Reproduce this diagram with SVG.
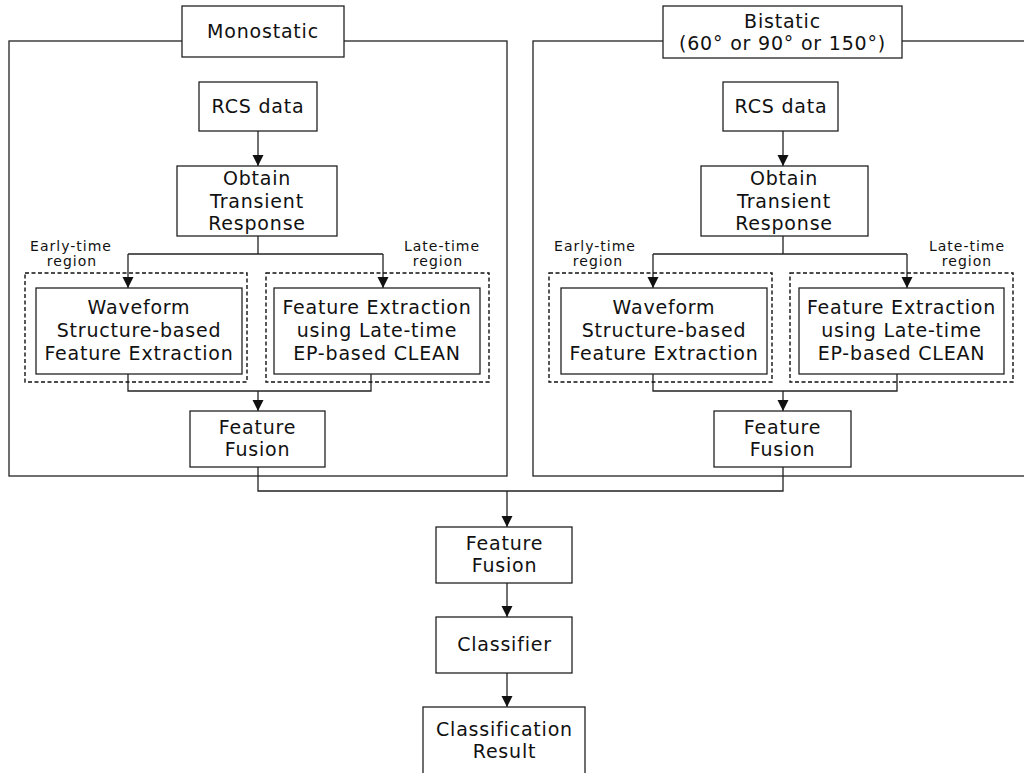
<svg xmlns="http://www.w3.org/2000/svg" width="1024" height="773" viewBox="0 0 1024 773">
<style>
  .box { fill: #fff; stroke: #222; stroke-width: 1.3; }
  .panel { fill: none; stroke: #222; stroke-width: 1.3; }
  .dash { fill: none; stroke: #111; stroke-width: 1.4; stroke-dasharray: 4 2.5; }
  .ln { fill: none; stroke: #222; stroke-width: 1.3; }
  .arr { fill: none; stroke: #222; stroke-width: 1.3; marker-end: url(#ah); }
  text { font-family: "DejaVu Sans", "Liberation Sans", sans-serif; fill: #111; text-anchor: middle; }
  .t { font-size: 19px; letter-spacing: 0.8px; }
  .s { font-size: 14px; letter-spacing: 1px; }
</style>
<defs>
  <marker id="ah" markerUnits="userSpaceOnUse" markerWidth="12" markerHeight="12" refX="11" refY="6" orient="auto">
    <path d="M0,0.5 L11,6 L0,11.5 z" fill="#111"/>
  </marker>
</defs>
<rect width="1024" height="773" fill="#fff"/>

<g id="panel-mono">
  <rect class="panel" x="9" y="41" width="498" height="435"/>
</g>
<g id="panel-bi">
  <rect class="panel" x="533" y="41" width="510" height="435"/>
</g>

<g id="connectors">
  <path class="arr" d="M258,131 V166"/>
  <path class="ln" d="M258,236 V254 M128,254 H383"/>
  <path class="arr" d="M128,254 V288"/>
  <path class="arr" d="M383,254 V288"/>
  <path class="ln" d="M128,374 V391 H371 V374"/>
  <path class="arr" d="M258,391 V411"/>
  <path class="arr" d="M783,131 V166"/>
  <path class="ln" d="M783,236 V254 M653,254 H907"/>
  <path class="arr" d="M653,254 V288"/>
  <path class="arr" d="M907,254 V288"/>
  <path class="ln" d="M653,374 V391 H897 V374"/>
  <path class="arr" d="M783,391 V411"/>
  <path class="ln" d="M258,467 V491 H783 V467"/>
  <path class="arr" d="M507,491 V527"/>
  <path class="arr" d="M507,583 V617"/>
  <path class="arr" d="M507,673 V707"/>
</g>

<g id="mono-label">
  <rect class="box" x="182" y="6" width="162" height="51"/>
  <text class="t" x="263" y="38">Monostatic</text>
</g>
<g id="mono-rcs">
  <rect class="box" x="199" y="82" width="118" height="49"/>
  <text class="t" x="258" y="113">RCS data</text>
</g>
<g id="mono-transient">
  <rect class="box" x="177" y="166" width="160" height="70"/>
  <text class="t" x="257" y="185">Obtain</text>
  <text class="t" x="257" y="207.5">Transient</text>
  <text class="t" x="257" y="230">Response</text>
</g>
<g id="mono-early-label">
  <text class="s" x="71" y="251">Early-time</text>
  <text class="s" x="72" y="266">region</text>
</g>
<g id="mono-late-label">
  <text class="s" x="442" y="251">Late-time</text>
  <text class="s" x="438" y="266">region</text>
</g>
<g id="mono-early">
  <rect class="dash" x="25" y="273" width="222" height="109"/>
  <rect class="box" x="36" y="288" width="206" height="86"/>
  <text class="t" x="139" y="314">Waveform</text>
  <text class="t" x="139" y="337">Structure-based</text>
  <text class="t" x="139" y="360">Feature Extraction</text>
</g>
<g id="mono-late">
  <rect class="dash" x="266" y="273" width="223" height="109"/>
  <rect class="box" x="274" y="288" width="206" height="86"/>
  <text class="t" x="377" y="314">Feature Extraction</text>
  <text class="t" x="377" y="337">using Late-time</text>
  <text class="t" x="377" y="360">EP-based CLEAN</text>
</g>
<g id="mono-fusion">
  <rect class="box" x="190" y="411" width="135" height="56"/>
  <text class="t" x="257.5" y="434">Feature</text>
  <text class="t" x="257.5" y="456">Fusion</text>
</g>

<g id="bi-label">
  <rect class="box" x="663" y="6" width="239" height="52"/>
  <text class="t" x="782.5" y="28">Bistatic</text>
  <text class="t" x="782.5" y="50">(60° or 90° or 150°)</text>
</g>
<g id="bi-rcs">
  <rect class="box" x="723" y="82" width="115" height="49"/>
  <text class="t" x="781" y="113">RCS data</text>
</g>
<g id="bi-transient">
  <rect class="box" x="701" y="166" width="167" height="70"/>
  <text class="t" x="784" y="185">Obtain</text>
  <text class="t" x="784" y="207.5">Transient</text>
  <text class="t" x="784" y="230">Response</text>
</g>
<g id="bi-early-label">
  <text class="s" x="595" y="251">Early-time</text>
  <text class="s" x="598" y="266">region</text>
</g>
<g id="bi-late-label">
  <text class="s" x="967" y="251">Late-time</text>
  <text class="s" x="967" y="266">region</text>
</g>
<g id="bi-early">
  <rect class="dash" x="549" y="273" width="223" height="109"/>
  <rect class="box" x="561" y="288" width="206" height="86"/>
  <text class="t" x="664" y="314">Waveform</text>
  <text class="t" x="664" y="337">Structure-based</text>
  <text class="t" x="664" y="360">Feature Extraction</text>
</g>
<g id="bi-late">
  <rect class="dash" x="790" y="273" width="223" height="109"/>
  <rect class="box" x="799" y="288" width="205" height="86"/>
  <text class="t" x="901.5" y="314">Feature Extraction</text>
  <text class="t" x="901.5" y="337">using Late-time</text>
  <text class="t" x="901.5" y="360">EP-based CLEAN</text>
</g>
<g id="bi-fusion">
  <rect class="box" x="714" y="411" width="137" height="56"/>
  <text class="t" x="782.5" y="434">Feature</text>
  <text class="t" x="782.5" y="456">Fusion</text>
</g>

<g id="fusion">
  <rect class="box" x="436" y="527" width="136" height="56"/>
  <text class="t" x="504.5" y="550">Feature</text>
  <text class="t" x="504.5" y="572">Fusion</text>
</g>
<g id="classifier">
  <rect class="box" x="436" y="617" width="136" height="56"/>
  <text class="t" x="504.5" y="651">Classifier</text>
</g>
<g id="result">
  <rect class="box" x="423" y="707" width="162" height="80"/>
  <text class="t" x="504.5" y="736">Classification</text>
  <text class="t" x="504.5" y="758">Result</text>
</g>
</svg>
